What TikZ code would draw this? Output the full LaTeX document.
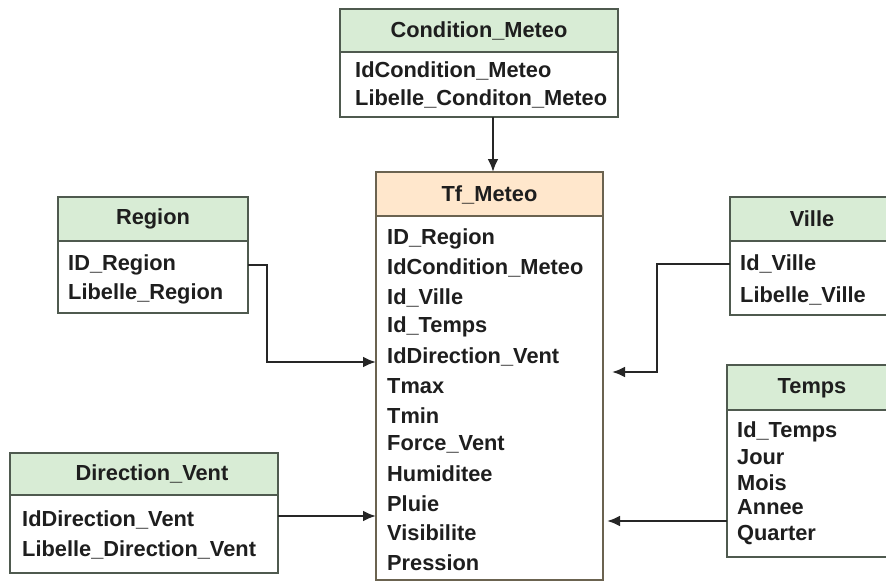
\documentclass[tikz,border=0pt]{standalone}
\usepackage{fontspec}
\setmainfont{Liberation Sans}
\usetikzlibrary{arrows.meta}
\definecolor{hdrgreen}{HTML}{D8ECD5}
\definecolor{hdrorange}{HTML}{FFE7CC}
\definecolor{bordgreen}{HTML}{4F5A4F}
\definecolor{bordorange}{HTML}{6B6350}
\definecolor{txt}{HTML}{1E1E1E}
\begin{document}
\begin{tikzpicture}[x=1pt,y=-1pt,
  hdr/.style={draw=bordgreen,fill=hdrgreen,line width=2.2pt},
  bdy/.style={draw=bordgreen,fill=white,line width=2.2pt},
  fhdr/.style={draw=bordorange,fill=hdrorange,line width=2.2pt},
  fbdy/.style={draw=bordorange,fill=white,line width=2.2pt},
  ttl/.style={font=\fontsize{21.8}{26}\selectfont\bfseries,text=txt,inner sep=0pt},
  fld/.style={font=\fontsize{21.8}{26}\selectfont\bfseries,text=txt,inner sep=0pt,anchor=west},
  arr/.style={draw=black!85,line width=2.4pt,-{Latex[length=13pt,width=11pt]}}]
\useasboundingbox (0,0) rectangle (886,584);
\fill[white] (0,0) rectangle (886,584);

% Condition_Meteo
\draw[hdr] (340,9) rectangle (618,52);
\draw[bdy] (340,52) rectangle (618,117);
\node[ttl] (cmt) at (479,31) {Condition\_Meteo};
\node[fld] (cm1) at (355,71) {IdCondition\_Meteo};
\node[fld] (cm2) at (355,99) {Libelle\_Conditon\_Meteo};
\coordinate (cmb) at (493,117);

% Tf_Meteo
\draw[fhdr] (376,172) rectangle (603,216);
\draw[fbdy] (376,216) rectangle (603,580);
\node[ttl] (tft) at (489.5,195) {Tf\_Meteo};
\coordinate (tftop) at (493,172);
\foreach \t [count=\i] in {ID\_Region,IdCondition\_Meteo,Id\_Ville,Id\_Temps,IdDirection\_Vent,Tmax,Tmin,Force\_Vent,Humiditee,Pluie,Visibilite,Pression}
  \node[fld] (tf\i) at (387,{239+(\i-1)*29.4}) {\t};
\coordinate (tfL) at (376,300);
\coordinate (tfR) at (603,300);

% Region
\draw[hdr] (58,197) rectangle (248,241);
\draw[bdy] (58,241) rectangle (248,313);
\node[ttl] (rgt) at (153,219) {Region};
\node[fld] (rg1) at (68,265) {ID\_Region};
\node[fld] (rg2) at (68,294) {Libelle\_Region};
\coordinate (rgR) at (248,265);
\coordinate (rgK) at (267,265);

% Ville
\draw[hdr] (730,197) rectangle (900,241);
\draw[bdy] (730,241) rectangle (900,315);
\node[ttl] (vlt) at (812,219) {Ville};
\node[fld] (vl1) at (740,264) {Id\_Ville};
\node[fld] (vl2) at (740,296) {Libelle\_Ville};
\coordinate (vlL) at (730,264);
\coordinate (vlK) at (657,264);

% Temps
\draw[hdr] (727,365) rectangle (900,410);
\draw[bdy] (727,410) rectangle (900,557);
\node[ttl] (tpt) at (812,388) {Temps};
\node[fld] (tp1) at (737,432) {Id\_Temps};
\node[fld] (tp2) at (737,457) {Jour};
\node[fld] (tp3) at (737,483) {Mois};
\node[fld] (tp4) at (737,507) {Annee};
\node[fld] (tp5) at (737,535) {Quarter};
\coordinate (tpL) at (727,521);

% Direction_Vent
\draw[hdr] (10,453) rectangle (278,495);
\draw[bdy] (10,495) rectangle (278,573);
\node[ttl] (dvt) at (152,474) {Direction\_Vent};
\node[fld] (dv1) at (22,520) {IdDirection\_Vent};
\node[fld] (dv2) at (22,550) {Libelle\_Direction\_Vent};
\coordinate (dvR) at (278,516);

% connectors
\draw[arr] (cmb) -- (tftop);
\draw[arr] (rgR) -- (rgK) |- (tfL |- 0,362);
\draw[arr, shorten >=9pt] (vlL) -- (vlK) |- (tfR |- 0,372);
\draw[arr, shorten >=4pt] (tpL) -- (tfR |- tpL);
\draw[arr] (dvR) -- (tfL |- dvR);
\end{tikzpicture}
\end{document}
